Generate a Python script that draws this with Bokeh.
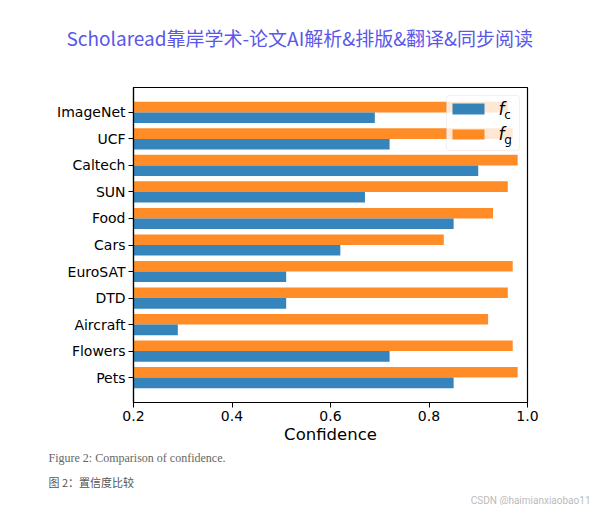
from bokeh.plotting import figure
from bokeh.models import (ColumnDataSource, Range1d, FixedTicker, PrintfTickFormatter,
                          Label, BoxAnnotation, Title)
from bokeh.transform import dodge
from bokeh.embed import file_html
from bokeh.resources import INLINE

categories = ["Pets", "Flowers", "Aircraft", "DTD", "EuroSAT", "Cars",
              "Food", "SUN", "Caltech", "UCF", "ImageNet"]
f_c = [0.85, 0.72, 0.29, 0.51, 0.51, 0.62, 0.85, 0.67, 0.90, 0.72, 0.69]
f_g = [0.98, 0.97, 0.92, 0.96, 0.97, 0.83, 0.93, 0.96, 0.98, 0.97, 0.96]
x_ticks = [0.2, 0.4, 0.6, 0.8, 1.0]

title_text = "Scholaread靠岸学术-论文AI解析&排版&翻译&同步阅读"
caption_en = "Figure 2: Comparison of confidence."
caption_zh = "图 2：置信度比较"
watermark = "CSDN @haimianxiaobao11"

src = ColumnDataSource(dict(idx=list(range(len(categories))), fc=f_c, fg=f_g))

p = figure(output_backend="svg", toolbar_location=None,
           frame_width=394, frame_height=315,
           min_border_left=133, min_border_right=65,
           min_border_top=87, min_border_bottom=103,
           x_range=Range1d(0.2, 1.0), y_range=Range1d(-0.94, 10.94))
p.background_fill_color = "white"
p.border_fill_color = "white"
p.outline_line_color = "black"
p.outline_line_width = 1.2
p.xgrid.visible = False
p.ygrid.visible = False

p.hbar(y=dodge("idx", 0.2), left=0, right="fg", height=0.4, source=src,
       fill_color="#ff7f0e", fill_alpha=0.9, line_color=None)
p.hbar(y=dodge("idx", -0.2), left=0, right="fc", height=0.4, source=src,
       fill_color="#1f77b4", fill_alpha=0.9, line_color=None)

for ax in (p.xaxis[0], p.yaxis[0]):
    ax.axis_line_color = "black"
    ax.axis_line_width = 1.2
    ax.major_tick_line_color = "black"
    ax.major_tick_out = 5
    ax.major_tick_in = 0
    ax.minor_tick_line_color = None
    ax.major_label_text_font = "DejaVu Sans"
    ax.major_label_text_font_size = "14px"
    ax.major_label_text_color = "black"
    ax.major_label_standoff = 3

p.xaxis.ticker = FixedTicker(ticks=x_ticks)
p.xaxis.formatter = PrintfTickFormatter(format="%.1f")
p.xaxis.axis_label = "Confidence"
p.xaxis.axis_label_text_font = "DejaVu Sans"
p.xaxis.axis_label_text_font_size = "16.5px"
p.xaxis.axis_label_text_font_style = "normal"
p.xaxis.axis_label_text_color = "black"
p.xaxis.axis_label_standoff = 1

p.yaxis.ticker = FixedTicker(ticks=list(range(len(categories))))
p.yaxis.major_label_overrides = {i: c for i, c in enumerate(categories)}

# legend (manual, for the italic f with subscript)
p.add_layout(BoxAnnotation(left=0.8355, right=0.9838, bottom=8.565, top=10.64,
                           fill_color="white", fill_alpha=0.8,
                           line_color="#cccccc", line_width=1, border_radius=3))
p.add_layout(BoxAnnotation(left=0.8477, right=0.9127, bottom=9.922, top=10.337,
                           fill_color="#1f77b4", fill_alpha=0.9, line_color=None))
p.add_layout(BoxAnnotation(left=0.8477, right=0.9127, bottom=8.979, top=9.356,
                           fill_color="#ff7f0e", fill_alpha=0.9, line_color=None))
for yy, sub in ((10.13, "c"), (9.17, "g")):
    p.add_layout(Label(x=0.941, y=yy, text="f", text_font="DejaVu Sans",
                       text_font_style="italic", text_font_size="17px",
                       text_baseline="middle", text_color="black"))
    p.add_layout(Label(x=0.953, y=yy - 0.22, text=sub, text_font="DejaVu Sans",
                       text_font_size="12px", text_baseline="middle",
                       text_color="black"))

# page texts as titles
p.title = Title(text=title_text, align="left", offset=-67, standoff=0,
                text_font="Noto Sans CJK SC", text_font_size="19px",
                text_font_style="normal", text_color="#5a57ea")
# spacer between the frame and the page title
p.add_layout(Title(text=" ", standoff=24, text_font_size="10px",
                   text_color="white"), "above")
p.add_layout(Title(text=caption_en, align="left", offset=-85, standoff=4,
                   text_font="Liberation Serif", text_font_size="12px",
                   text_font_style="normal", text_color="#666666"), "below")
p.add_layout(Title(text=caption_zh, align="left", offset=-85, standoff=11,
                   text_font="Noto Sans CJK SC", text_font_size="11px",
                   text_font_style="normal", text_color="#555555",
                   text_line_height=0.4), "below")
p.add_layout(Title(text=watermark, align="right", offset=-63, standoff=-20,
                   text_font="Roboto", text_font_size="10px",
                   text_font_style="normal", text_color="#bbbbbb"), "below")

open("out.html", "w").write(file_html(p, INLINE))
